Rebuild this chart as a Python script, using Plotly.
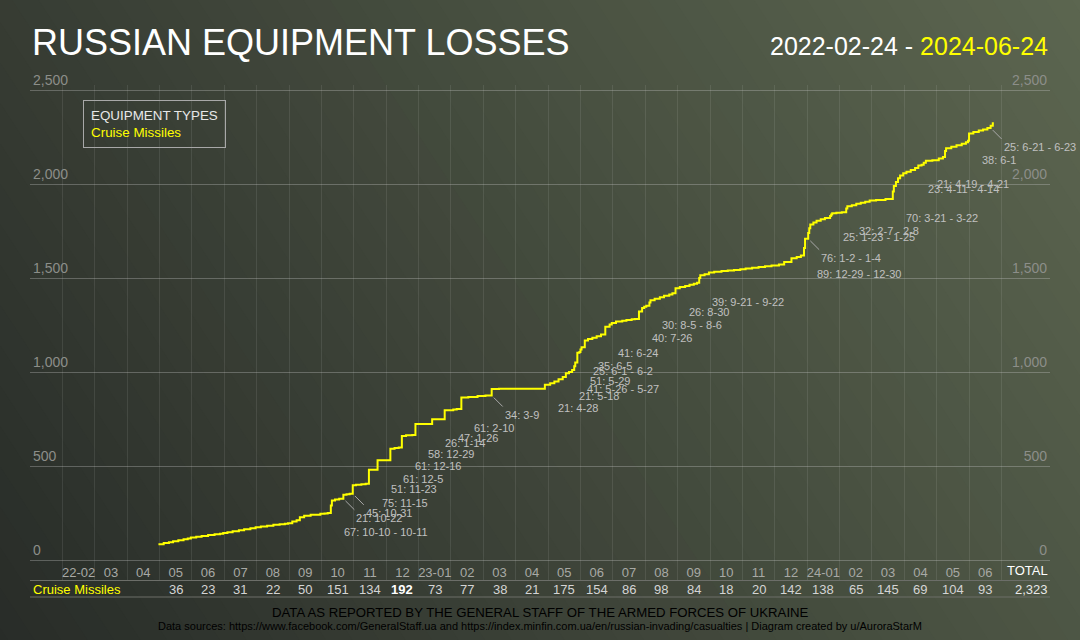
import calendar
import plotly.graph_objects as go

# cumulative cruise missiles: date of a step and total after it
step_dates = [
    "2022-04-30", "2022-05-05", "2022-05-10", "2022-05-14", "2022-05-19", "2022-05-24", "2022-05-28", "2022-05-31",
    "2022-06-05", "2022-06-10", "2022-06-16", "2022-06-22", "2022-06-27", "2022-06-30",
    "2022-07-04", "2022-07-09", "2022-07-15", "2022-07-20", "2022-07-26", "2022-07-31",
    "2022-08-05", "2022-08-11", "2022-08-17", "2022-08-23", "2022-08-28", "2022-08-31",
    "2022-09-04", "2022-09-08", "2022-09-11", "2022-09-15", "2022-09-21", "2022-09-30",
    "2022-10-04", "2022-10-07", "2022-10-10", "2022-10-11", "2022-10-14", "2022-10-18", "2022-10-22",
    "2022-10-25", "2022-10-28", "2022-10-31",
    "2022-11-03", "2022-11-08", "2022-11-12", "2022-11-15", "2022-11-23",
    "2022-12-05", "2022-12-09", "2022-12-13", "2022-12-16", "2022-12-20", "2022-12-26", "2022-12-29",
    "2023-01-14", "2023-01-26",
    "2023-02-03", "2023-02-06", "2023-02-10", "2023-02-16", "2023-02-24",
    "2023-03-03", "2023-03-09", "2023-03-16",
    "2023-04-28",
    "2023-05-03", "2023-05-07", "2023-05-11", "2023-05-15", "2023-05-18", "2023-05-21", "2023-05-24",
    "2023-05-26", "2023-05-27", "2023-05-29", "2023-05-31",
    "2023-06-01", "2023-06-02", "2023-06-05", "2023-06-08", "2023-06-12", "2023-06-16", "2023-06-20",
    "2023-06-24", "2023-06-28", "2023-06-30",
    "2023-07-04", "2023-07-10", "2023-07-14", "2023-07-19", "2023-07-22", "2023-07-26", "2023-07-29", "2023-07-31",
    "2023-08-02", "2023-08-05", "2023-08-06", "2023-08-10", "2023-08-15", "2023-08-19", "2023-08-24",
    "2023-08-27", "2023-08-30",
    "2023-09-03", "2023-09-08", "2023-09-12", "2023-09-16", "2023-09-19", "2023-09-21", "2023-09-22",
    "2023-09-26", "2023-09-30",
    "2023-10-05", "2023-10-12", "2023-10-18", "2023-10-24", "2023-10-30",
    "2023-11-04", "2023-11-10", "2023-11-16", "2023-11-22", "2023-11-28",
    "2023-12-05", "2023-12-10", "2023-12-17", "2023-12-22", "2023-12-26", "2023-12-29", "2023-12-30",
    "2024-01-02", "2024-01-03", "2024-01-04", "2024-01-07", "2024-01-10", "2024-01-14", "2024-01-18",
    "2024-01-23", "2024-01-24", "2024-01-25", "2024-01-29",
    "2024-02-03", "2024-02-07", "2024-02-08", "2024-02-12", "2024-02-16", "2024-02-20", "2024-02-24", "2024-02-28",
    "2024-03-05", "2024-03-14", "2024-03-21", "2024-03-22", "2024-03-24", "2024-03-26", "2024-03-28", "2024-03-31",
    "2024-04-03", "2024-04-07", "2024-04-11", "2024-04-14", "2024-04-17", "2024-04-19", "2024-04-21", "2024-04-27",
    "2024-05-03", "2024-05-07", "2024-05-09", "2024-05-10", "2024-05-15", "2024-05-20", "2024-05-25",
    "2024-05-29", "2024-05-31",
    "2024-06-01", "2024-06-05", "2024-06-10", "2024-06-14", "2024-06-18", "2024-06-21", "2024-06-23", "2024-06-24",
]
step_totals = [
    84, 90, 95, 100, 105, 110, 115, 120,
    124, 128, 133, 137, 140, 143,
    148, 153, 158, 163, 169, 174,
    178, 182, 187, 190, 193, 196,
    205, 212, 228, 236, 241, 246,
    248, 250, 290, 317, 322, 326, 347,
    350, 352, 397,
    400, 403, 405, 480, 531,
    592, 596, 599, 660, 663, 665, 723,
    749, 796,
    800, 803, 864, 867, 873,
    875, 909, 911,
    932,
    940, 950, 962, 973, 994, 1000, 1010,
    1030, 1051, 1102, 1107,
    1120, 1132, 1167, 1175, 1182, 1190, 1200,
    1241, 1252, 1261,
    1268, 1272, 1276, 1280, 1282, 1322, 1340, 1347,
    1352, 1370, 1382, 1390, 1398, 1405, 1412,
    1419, 1445,
    1452, 1458, 1464, 1470, 1475, 1500, 1514,
    1520, 1529,
    1533, 1537, 1540, 1543, 1547,
    1551, 1555, 1559, 1563, 1567,
    1572, 1585, 1605, 1612, 1620, 1660, 1709,
    1740, 1765, 1785, 1795, 1805, 1812, 1819,
    1830, 1838, 1844, 1847,
    1850, 1870, 1882, 1887, 1895, 1900, 1905, 1912,
    1915, 1920, 1960, 1990, 2010, 2030, 2045, 2057,
    2065, 2075, 2085, 2098, 2103, 2113, 2124, 2126,
    2135, 2143, 2175, 2190, 2198, 2206, 2214,
    2222, 2230,
    2268, 2276, 2284, 2290, 2298, 2310, 2323, 2323,
]

months = ["22-02", "03", "04", "05", "06", "07", "08", "09", "10", "11", "12",
          "23-01", "02", "03", "04", "05", "06", "07", "08", "09", "10", "11", "12",
          "24-01", "02", "03", "04", "05", "06"]
monthly = [None, None, None, 36, 23, 31, 22, 50, 151, 134, 192,
           73, 77, 38, 21, 175, 154, 86, 98, 84, 18, 20, 142,
           138, 65, 145, 69, 104, 93]
total = 2323

# big single jumps that get a label
jump_sizes = [67, 21, 45, 75, 51, 61, 61, 58, 26, 47, 61, 34, 21, 21, 41, 51, 25, 35, 41, 40, 30, 26, 39,
              89, 76, 25, 32, 70, 23, 21, 38, 25]
jump_starts = ["2022-10-10", "2022-10-22", "2022-10-31", "2022-11-15", "2022-11-23", "2022-12-05", "2022-12-16",
               "2022-12-29", "2023-01-14", "2023-01-26", "2023-02-10", "2023-03-09", "2023-04-28", "2023-05-18",
               "2023-05-26", "2023-05-29", "2023-06-01", "2023-06-05", "2023-06-24", "2023-07-26", "2023-08-05",
               "2023-08-30", "2023-09-21", "2023-12-29", "2024-01-02", "2024-01-23", "2024-02-07", "2024-03-21",
               "2024-04-11", "2024-04-19", "2024-06-01", "2024-06-21"]
jump_ends = ["2022-10-11", None, None, None, None, None, None, None, None, None, None, None, None, None,
             "2023-05-27", None, "2023-06-02", None, None, None, "2023-08-06", None, "2023-09-22",
             "2023-12-30", "2024-01-04", "2024-01-25", "2024-02-08", "2024-03-22", "2024-04-14", "2024-04-21",
             None, "2024-06-23"]

y_ticks = [0, 500, 1000, 1500, 2000, 2500]

FONT = "Liberation Sans, Arial, sans-serif"
W, H = 1080, 640


def month_pos(d):
    # every month gets the same width on the chart
    y, m, dd = map(int, d.split("-"))
    return (y - 2022) * 12 + (m - 2) + (dd - 1) / calendar.monthrange(y, m)[1]


def short(d):
    _, m, dd = d.split("-")
    return f"{int(m)}-{int(dd)}"


def px(x, y):
    return x / W, 1 - y / H


def note(x, y, text, size, color, xanchor="left", **kw):
    fig.add_annotation(x=x, y=y, xref="paper", yref="paper", text=text, xanchor=xanchor,
                       yanchor=kw.pop("yanchor", "middle"), showarrow=False,
                       font=dict(family=FONT, size=size, color=color), **kw)


step_x = [month_pos(d) for d in step_dates]

fig = go.Figure()
fig.add_trace(go.Scatter(x=step_x, y=step_totals, mode="lines", line_shape="hv",
                         line=dict(color="#ffff00", width=2), showlegend=False, hoverinfo="skip"))
fig.add_trace(go.Scatter(x=step_x[:1], y=step_totals[:1], mode="lines", line=dict(width=0),
                         yaxis="y2", showlegend=False, hoverinfo="skip"))

# background: diagonal gradient made of overlapping bands
c0, c1 = (40, 44, 40), (92, 102, 80)
a, b = 0.72, 0.28
n = 60
t_min, t_max = -0.03, 1.03
step = (t_max - t_min) / n
for k in range(n):
    t0 = t_min + k * step
    t1 = t0 + step * 1.8
    tc = min(max(t0 + step / 2, 0), 1)
    col = tuple(round(c0[i] + (c1[i] - c0[i]) * tc) for i in range(3))
    v0, v1 = -0.05, 1.05
    path = (f"M {(t0 - b * v0) / a},{v0} L {(t1 - b * v0) / a},{v0} "
            f"L {(t1 - b * v1) / a},{v1} L {(t0 - b * v1) / a},{v1} Z")
    fig.add_shape(type="path", path=path, xref="paper", yref="paper", layer="below",
                  fillcolor=f"rgb{col}", line=dict(width=0))

# jump labels
for size, s, e in zip(jump_sizes, jump_starts, jump_ends):
    before = [v for d, v in zip(step_dates, step_totals) if d < s][-1]
    label = f"{size}: {short(s)}" + (f" - {short(e)}" if e else "")
    fig.add_annotation(x=month_pos(s), y=before, xref="x", yref="y", text=label,
                       showarrow=True, arrowhead=0, arrowwidth=1, arrowcolor="#a9a9a9",
                       ax=11, ay=11, standoff=3, xanchor="left", yanchor="top",
                       font=dict(family=FONT, size=11, color="#c0c0c0"))

# table row with monthly values
row_y = px(0, 589)[1]
top_val = max(v for v in monthly if v is not None)
for i, v in enumerate(monthly):
    if v is None:
        continue
    txt = f"<b>{v}</b>" if v == top_val else str(v)
    fig.add_annotation(x=i + 0.5, y=row_y, xref="x", yref="paper", text=txt, showarrow=False,
                       xanchor="center", yanchor="middle",
                       font=dict(family=FONT, size=13, color="#ffffff" if v == top_val else "#d4d4d4"))

note(px(31, 0)[0], row_y, "Cruise Missiles", 13, "#ffff00")
note(px(1050, 0)[0], px(0, 570)[1], "TOTAL", 13, "#ffffff", xanchor="right")
note(px(1050, 0)[0], row_y, f"{total:,}", 13, "#e8e8e8", xanchor="right")
fig.add_shape(type="line", xref="paper", yref="paper", x0=px(30, 0)[0], x1=px(1050, 0)[0],
              y0=px(0, 597)[1], y1=px(0, 597)[1], line=dict(color="#6c6e69", width=1))

# titles, legend box, footer
note(px(30, 0)[0], px(0, 43)[1], "RUSSIAN EQUIPMENT LOSSES", 36, "#ffffff")
note(px(1050, 0)[0], px(0, 46)[1], "2022-02-24 - <span style='color:#ffff00'>2024-06-24</span>",
     25, "#ffffff", xanchor="right")
note(px(83, 0)[0], px(0, 100)[1], "EQUIPMENT TYPES<br><span style='color:#ffff00'>Cruise Missiles</span>",
     13.4, "#e8e8e8", yanchor="top", align="left", bordercolor="#a8a8a8", borderwidth=1, borderpad=7)
note(0.5, px(0, 612)[1], "DATA AS REPORTED BY THE GENERAL STAFF OF THE ARMED FORCES OF UKRAINE",
     13.2, "#000000", xanchor="center")
note(0.5, px(0, 626)[1],
     "Data sources: https://www.facebook.com/GeneralStaff.ua and "
     "https://index.minfin.com.ua/en/russian-invading/casualties | Diagram created by u/AuroraStarM",
     11, "#000000", xanchor="center")

# 0 sits at 560 px, 2,500 at 90 px; plot area runs 85..580 px
per_px = 2500 / (560 - 90)
y_range = [-(580 - 560) * per_px, 2500 + (90 - 85) * per_px]
y_domain = [1 - 580 / H, 1 - 85 / H]

yax = dict(range=y_range, domain=y_domain, tickvals=y_ticks, tickformat=",", ticks="",
           ticklabelposition="inside top", ticklabeloverflow="allow", zeroline=False, showline=False,
           tickfont=dict(family=FONT, size=14, color="#8c8e89"))

fig.update_layout(
    width=W, height=H,
    margin=dict(l=0, r=0, t=0, b=0, autoexpand=False),
    paper_bgcolor="#3f453b",
    plot_bgcolor="rgba(0,0,0,0)",
    showlegend=False,
    xaxis=dict(range=[-1, len(months) + 1.5], domain=[30 / W, 1050 / W],
               tickvals=[i + 0.5 for i in range(len(months))], ticktext=months,
               ticks="", ticklabelposition="inside", ticklabeloverflow="allow",
               showgrid=False, zeroline=False,
               showline=True, linecolor="#6c6e69", linewidth=1,
               tickfont=dict(family=FONT, size=13, color="#a8a9a5"),
               minor=dict(tickvals=list(range(len(months) + 1)), showgrid=True,
                          gridcolor="rgba(255,255,255,0.09)", gridwidth=1, ticks="")),
    yaxis=dict(**yax, showgrid=True, gridcolor="rgba(200,200,200,0.33)", gridwidth=1),
    yaxis2=dict(**yax, overlaying="y", side="right", showgrid=False),
)

fig.write_html("out.html", config={"displayModeBar": False},
               post_script="document.body.style.margin = '0';")
